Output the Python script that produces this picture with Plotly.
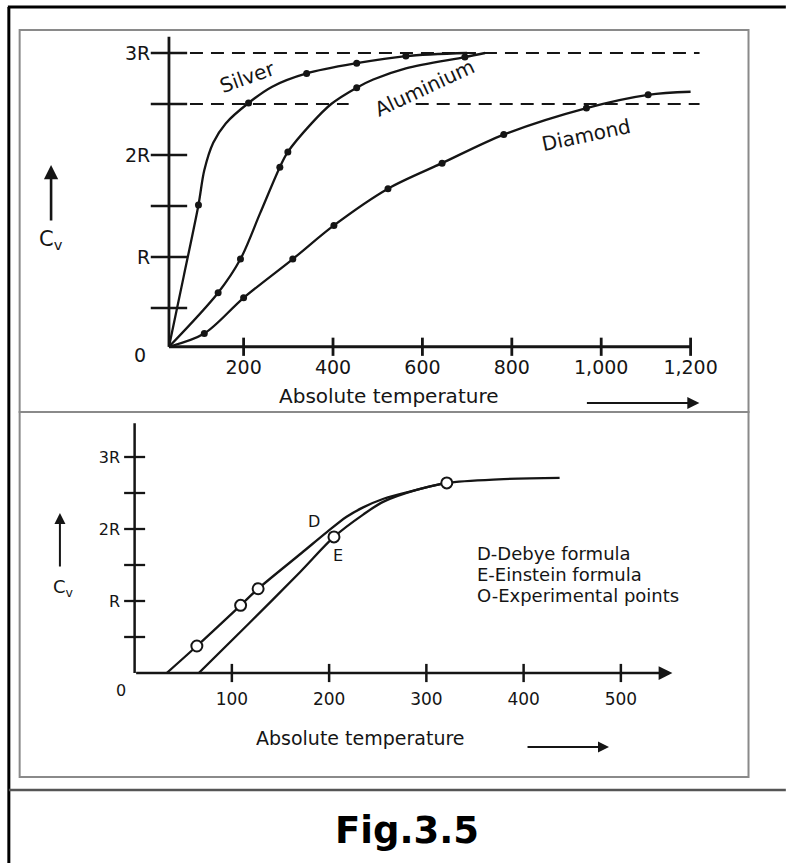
import plotly.graph_objects as go

W, H = 791, 863

# ---------------- data : upper panel (Cv in units of R, T in K) ----------------
top_xticks = [200, 400, 600, 800, 1000, 1200]
top_xticktext = ["200", "400", "600", "800", "1,000", "1,200"]
top_yticks = [1, 2, 3]
top_yticktext = ["R", "2R", "3R"]
top_tickmarks_y = [0.5, 1, 1.5, 2, 2.5, 3]
top_limits = [3.0, 2.5]          # dashed asymptote levels

silver_T = [33, 66, 99, 112, 132, 160, 211, 264, 341, 453, 563, 700]
silver_Cv = [0.12, 0.81, 1.51, 1.85, 2.12, 2.31, 2.51, 2.67, 2.80, 2.90, 2.97, 3.00]
silver_pts_T = [99, 211, 341, 453, 563]
silver_pts_Cv = [1.51, 2.51, 2.80, 2.90, 2.97]

alu_T = [33, 143, 193, 237, 281, 299, 352, 396, 453, 490, 563, 695, 740]
alu_Cv = [0.12, 0.65, 0.98, 1.43, 1.88, 2.03, 2.31, 2.50, 2.66, 2.74, 2.85, 2.96, 3.0]
alu_pts_T = [143, 193, 281, 299, 453, 695]
alu_pts_Cv = [0.65, 0.98, 1.88, 2.03, 2.66, 2.96]

dia_T = [33, 112, 200, 310, 402, 523, 644, 782, 967, 1105, 1200]
dia_Cv = [0.12, 0.25, 0.60, 0.98, 1.31, 1.67, 1.92, 2.20, 2.46, 2.59, 2.62]
dia_pts_T = [112, 200, 310, 402, 523, 644, 782, 967, 1105]
dia_pts_Cv = [0.25, 0.60, 0.98, 1.31, 1.67, 1.92, 2.20, 2.46, 2.59]

# ---------------- data : lower panel ----------------
bot_xticks = [100, 200, 300, 400, 500]
bot_xticktext = ["100", "200", "300", "400", "500"]
bot_yticks = [1, 2, 3]
bot_yticktext = ["R", "2R", "3R"]
bot_tickmarks_y = [0.5, 1, 1.5, 2, 2.5, 3]

debye_T = [33, 64, 109, 127, 172, 198, 218, 235, 256, 289, 321, 374, 437]
debye_Cv = [0.0, 0.375, 0.94, 1.17, 1.67, 1.96, 2.17, 2.30, 2.42, 2.54, 2.64, 2.69, 2.71]

einstein_T = [66, 117, 170, 205, 235, 256, 289, 321]
einstein_Cv = [0.0, 0.68, 1.40, 1.89, 2.20, 2.38, 2.54, 2.64]

exp_T = [64, 109, 127, 205, 321]
exp_Cv = [0.375, 0.94, 1.17, 1.89, 2.64]

legend_lines = ["D-Debye formula", "E-Einstein formula", "O-Experimental points"]

# ---------------- layout helpers ----------------
INK = "#151515"
FONT = "DejaVu Sans"


def px(x):
    return x / W


def py(y):
    return 1 - y / H


fig = go.Figure()

# upper panel axes drawn as lines from the axis origin
TOP_T0, TOP_C0, TOP_TEND, TOP_CTOP = 33, 0.12, 1200, 3.16
fig.add_trace(go.Scatter(x=[TOP_T0, TOP_T0], y=[TOP_C0, TOP_CTOP], mode="lines",
                         line=dict(color=INK, width=2.8), xaxis="x", yaxis="y"))
fig.add_trace(go.Scatter(x=[TOP_T0, TOP_TEND], y=[TOP_C0, TOP_C0], mode="lines",
                         line=dict(color=INK, width=2.8), xaxis="x", yaxis="y"))
fig.add_trace(go.Scatter(x=[TOP_T0] * len(top_tickmarks_y), y=top_tickmarks_y, mode="markers",
                         marker=dict(symbol="line-ew", size=26, line=dict(width=2.5, color=INK)),
                         cliponaxis=False, xaxis="x", yaxis="y"))
fig.add_trace(go.Scatter(x=top_xticks, y=[TOP_C0] * len(top_xticks), mode="markers",
                         marker=dict(symbol="line-ns", size=13, line=dict(width=2.8, color=INK)),
                         cliponaxis=False, xaxis="x", yaxis="y"))
# dashed limits (3R and 2.5R); the 2.5R line is broken under the "Aluminium" label
fig.add_trace(go.Scatter(x=[TOP_T0, 1220], y=[top_limits[0]] * 2, mode="lines",
                         line=dict(color=INK, width=2.2, dash="13px,8px"), xaxis="x", yaxis="y"))
fig.add_trace(go.Scatter(x=[TOP_T0, 435, None, 585, 1220],
                         y=[top_limits[1], top_limits[1], None, top_limits[1], top_limits[1]],
                         mode="lines", line=dict(color=INK, width=2.2, dash="13px,8px"),
                         xaxis="x", yaxis="y"))

for T, C, PT, PC in [(silver_T, silver_Cv, silver_pts_T, silver_pts_Cv),
                     (alu_T, alu_Cv, alu_pts_T, alu_pts_Cv),
                     (dia_T, dia_Cv, dia_pts_T, dia_pts_Cv)]:
    fig.add_trace(go.Scatter(x=T, y=C, mode="lines",
                             line=dict(color=INK, width=2.3, shape="spline", smoothing=0.9),
                             xaxis="x", yaxis="y"))
    fig.add_trace(go.Scatter(x=PT, y=PC, mode="markers",
                             marker=dict(color=INK, size=7, symbol="circle"),
                             xaxis="x", yaxis="y"))

# lower panel
BOT_T0, BOT_C0, BOT_CTOP, BOT_TARROW = 0, 0, 3.47, 553
fig.add_trace(go.Scatter(x=[BOT_T0, BOT_T0], y=[BOT_C0, BOT_CTOP], mode="lines",
                         line=dict(color=INK, width=2.5), xaxis="x2", yaxis="y2"))
fig.add_trace(go.Scatter(x=[BOT_T0] * len(bot_tickmarks_y), y=bot_tickmarks_y, mode="markers",
                         marker=dict(symbol="line-ew", size=15, line=dict(width=2.3, color=INK)),
                         cliponaxis=False, xaxis="x2", yaxis="y2"))
fig.add_trace(go.Scatter(x=bot_xticks, y=[BOT_C0] * len(bot_xticks), mode="markers",
                         marker=dict(symbol="line-ns", size=13, line=dict(width=2.5, color=INK)),
                         cliponaxis=False, xaxis="x2", yaxis="y2"))
fig.add_trace(go.Scatter(x=debye_T, y=debye_Cv, mode="lines",
                         line=dict(color=INK, width=2.3, shape="spline", smoothing=0.9),
                         xaxis="x2", yaxis="y2"))
fig.add_trace(go.Scatter(x=einstein_T, y=einstein_Cv, mode="lines",
                         line=dict(color=INK, width=2.3, shape="spline", smoothing=0.9),
                         xaxis="x2", yaxis="y2"))
fig.add_trace(go.Scatter(x=exp_T, y=exp_Cv, mode="markers",
                         marker=dict(color="white", size=11, symbol="circle",
                                     line=dict(color=INK, width=2)),
                         xaxis="x2", yaxis="y2"))

axis_common = dict(showgrid=False, zeroline=False, showline=False, ticks="",
                   fixedrange=True)

fig.update_layout(
    width=W, height=H,
    margin=dict(l=0, r=0, t=0, b=0),
    paper_bgcolor="white", plot_bgcolor="rgba(0,0,0,0)",
    showlegend=False,
    font=dict(family=FONT, color=INK),
    xaxis=dict(domain=[px(152.9), px(716.7)], range=[-9, 1230], anchor="y",
               tickvals=top_xticks, ticktext=top_xticktext,
               tickfont=dict(size=19, family=FONT, color=INK), ticklabelstandoff=-5,
               **axis_common),
    yaxis=dict(domain=[py(359), py(22.4)], range=[0, 3.3], anchor="x",
               tickvals=top_yticks, ticktext=top_yticktext,
               tickfont=dict(size=19, family=FONT, color=INK), ticklabelstandoff=-1,
               **axis_common),
    xaxis2=dict(domain=[px(121.2), px(706.3)], range=[-16, 575], anchor="y2",
                tickvals=bot_xticks, ticktext=bot_xticktext,
                tickfont=dict(size=17, family=FONT, color=INK), ticklabelstandoff=14,
                **axis_common),
    yaxis2=dict(domain=[py(673), py(421)], range=[0, 3.5], anchor="x2",
                tickvals=bot_yticks, ticktext=bot_yticktext,
                tickfont=dict(size=16, family=FONT, color=INK), ticklabelstandoff=-2,
                **axis_common),
)

ann = []
# bottom x-axis line with arrow head
ann.append(dict(x=BOT_TARROW, y=BOT_C0, xref="x2", yref="y2", ax=BOT_T0, ay=BOT_C0,
                axref="x2", ayref="y2", showarrow=True, arrowhead=2, arrowsize=1.1,
                arrowwidth=2.5, arrowcolor=INK, text=""))


def arrow(hx, hy, tx, ty, w=2.4):
    return dict(x=px(hx), y=py(hy), xref="paper", yref="paper",
                ax=tx - hx, ay=ty - hy, showarrow=True, arrowhead=2, arrowsize=1.1,
                arrowwidth=w, arrowcolor=INK, text="")


def label(x, y, text, size, angle=0, xanchor="center", yanchor="middle", **kw):
    d = dict(x=px(x), y=py(y), xref="paper", yref="paper", text=text, showarrow=False,
             font=dict(size=size, family=FONT, color=INK), textangle=angle,
             xanchor=xanchor, yanchor=yanchor)
    d.update(kw)
    return d


ann += [
    arrow(52, 165, 52, 222, 2.6),
    arrow(712, 403, 598, 403, 2.2),
    arrow(61, 513, 61, 568, 2.0),
    arrow(620, 747, 537, 747, 2.0),
    label(52, 240, "C<sub>v</sub>", 21),
    label(143, 355, "0", 19),
    label(395, 396, "Absolute temperature", 20),
    label(252, 77, "Silver", 20, angle=-20),
    label(432, 88, "Aluminium", 20, angle=-25),
    label(597, 135, "Diamond", 20, angle=-12),
    label(65, 588, "C<sub>v</sub>", 18),
    label(123, 690, "0", 16),
    label(367, 738, "Absolute temperature", 19),
    label(320, 521, "D", 16),
    label(344, 555, "E", 16),
    dict(x=px(414), y=py(830), xref="paper", yref="paper", text="<b>Fig.3.5</b>",
         showarrow=False, font=dict(size=37, family=FONT, color="#000"),
         xanchor="center", yanchor="middle"),
]
for i, line in enumerate(legend_lines):
    ann.append(label(484, 553 + 21 * i, line, 18, xanchor="left"))
fig.update_layout(annotations=ann)

shapes = [
    # outer black frame (left and top visible)
    dict(type="line", xref="paper", yref="paper", x0=px(9), x1=px(9), y0=py(7), y1=py(870),
         line=dict(color="#000", width=3)),
    dict(type="line", xref="paper", yref="paper", x0=px(8), x1=px(800), y0=py(7), y1=py(7),
         line=dict(color="#000", width=3)),
    # separator above caption
    dict(type="line", xref="paper", yref="paper", x0=px(9), x1=px(800), y0=py(790), y1=py(790),
         line=dict(color="#555", width=2.5)),
    # inner grey frames of the two panels
    dict(type="rect", xref="paper", yref="paper", x0=px(20), x1=px(762), y0=py(30), y1=py(412),
         line=dict(color="#8a8a8a", width=2)),
    dict(type="rect", xref="paper", yref="paper", x0=px(20), x1=px(762), y0=py(412), y1=py(777),
         line=dict(color="#8a8a8a", width=2)),
]
fig.update_layout(shapes=shapes)

fig.write_html("out.html")
